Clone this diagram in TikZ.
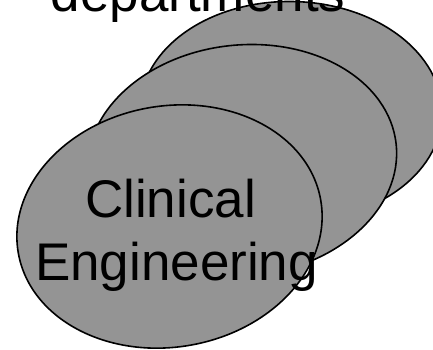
\documentclass[tikz,border=0pt]{standalone}
\usepackage{fontspec}
\setmainfont{Liberation Sans}
\usetikzlibrary{shapes.geometric}
\definecolor{ellfill}{RGB}{148,148,148}
\tikzset{
  disc/.style={ellipse, draw=black, fill=ellfill, line width=1.6pt, inner sep=0pt, outer sep=0pt},
  bigtext/.style={font=\fontsize{53}{63}\selectfont, anchor=base, inner sep=0pt, text=black}
}
\begin{document}
\begin{tikzpicture}[x=1pt, y=-1pt]
\useasboundingbox (0,0) rectangle (433,349);
\clip (0,0) rectangle (433,349);
\node[disc, minimum width=302pt, minimum height=220pt, rotate=-1] (back) at (291,111.5) {};
\node[disc, minimum width=310pt, minimum height=231pt, rotate=6] (middle) at (242,160.5) {};
\node[disc, minimum width=307pt, minimum height=241pt, rotate=10] (front) at (169.5,226.5) {};
\node[bigtext] (dept) at (198,11) {departments};
\node[bigtext] (clin) at (170.5,217) {Clinical};
\node[bigtext] (eng) at (176.5,280) {Engineering};
\end{tikzpicture}
\end{document}
